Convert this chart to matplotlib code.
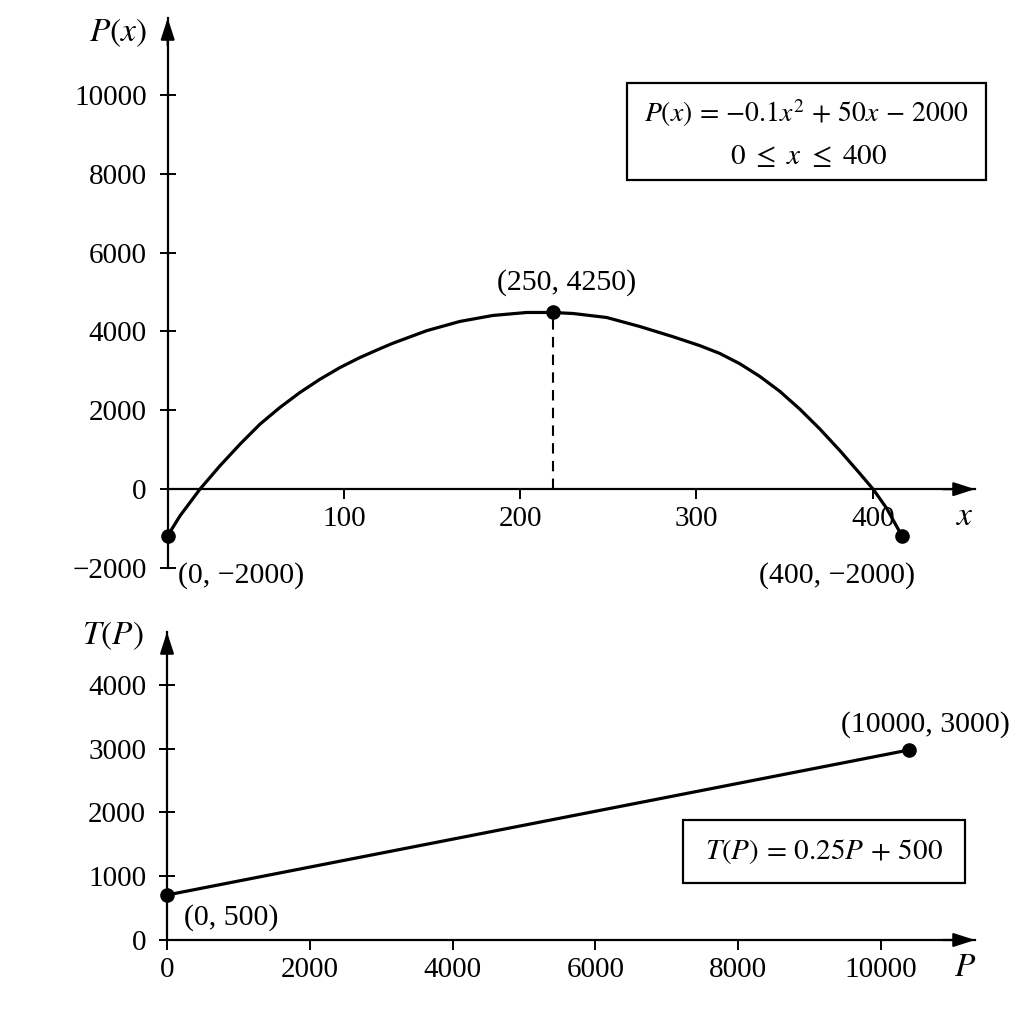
import numpy as np
import matplotlib.pyplot as plt
from matplotlib.patches import Rectangle

plt.rcParams['font.family'] = ['Liberation Serif', 'DejaVu Serif']
plt.rcParams['mathtext.fontset'] = 'stix'

# --- верхний график: прибыль P(x) (точки) ---
curve_x = [0, 7, 18.3, 29.6, 41, 52.3, 63.6, 74.9, 86.3, 97.6, 108.9, 120.3, 127.7,
           147, 165.7, 184.4, 203.7, 218.4, 230, 249, 267.7, 286.4, 301.9, 313.3,
           324.6, 335.9, 347.3, 358.6, 369.9, 381.3, 392.6, 400.2, 407.8, 416.5]
curve_y = [-1182, -676, 0, 590, 1139, 1646, 2069, 2448, 2785, 3081, 3335, 3560, 3700,
           4020, 4253, 4405, 4481, 4481, 4455, 4354, 4127, 3870, 3640, 3440,
           3180, 2860, 2480, 2030, 1530, 980, 400, 0, -480, -1182]
marked_x = [0, 218.4, 416.5]
marked_y = [-1182, 4481, -1182]
marked_labels = ['(0, \u22122000)', '(250, 4250)', '(400, \u22122000)']
top_xticks = [100, 200, 300, 400]
top_yticks = [-2000, 0, 2000, 4000, 6000, 8000, 10000]

# --- нижний график: налог T(P) ---
line_x = [0, 10390]
line_y = [706, 2980]
line_labels = ['(0, 500)', '(10000, 3000)']
bot_xticks = [0, 2000, 4000, 6000, 8000, 10000]
bot_yticks = [0, 1000, 2000, 3000, 4000]

W = 1024
fig = plt.figure(figsize=(10.24, 10.24), dpi=100)
fig.patch.set_facecolor('white')

def fx(px):
    return px / W

def fy(py):
    return 1 - py / W

arrow = dict(arrowstyle='-|>,head_length=1.3,head_width=0.42',
             color='black', lw=1.6, shrinkA=0, shrinkB=0)

def setup(ax):
    for s in ['top', 'right']:
        ax.spines[s].set_visible(False)
    for s in ['left', 'bottom']:
        ax.spines[s].set_linewidth(1.6)
    ax.spines['bottom'].set_position(('data', 0))
    ax.tick_params(axis='y', direction='inout', length=12, width=1.4, pad=9, labelsize=21)
    ax.tick_params(axis='x', direction='out', length=7, width=1.4, pad=5, labelsize=21)
    # стрелки на концах осей
    ax.annotate('', xy=(1, 0), xytext=(0.96, 0), xycoords=ax.get_yaxis_transform(), arrowprops=arrow)
    ax.annotate('', xy=(0, 1), xytext=(0, 0.95), xycoords=ax.get_xaxis_transform(), arrowprops=arrow)

# верхние оси
ax1 = fig.add_axes([fx(167.7), fy(568), fx(975 - 167.7), (568 - 18) / W])
ax1.set_xlim(0, 458)
ax1.set_ylim(-2000, 11950)
setup(ax1)
ax1.set_xticks(top_xticks)
ax1.set_yticks(top_yticks)
ax1.plot(curve_x, curve_y, color='black', lw=2.3, solid_joinstyle='round', clip_on=False)
ax1.plot([marked_x[1], marked_x[1]], [0, marked_y[1]], color='black', lw=1.5, ls=(0, (5, 3.5)))
ax1.plot(marked_x, marked_y, 'o', color='black', ms=9.5, clip_on=False, zorder=5)
ax1.text(5.8, -2203, marked_labels[0], ha='left', va='center', fontsize=21.5)
ax1.text(226.6, 5241, marked_labels[1], ha='center', va='center', fontsize=21.5)
ax1.text(379.6, -2203, marked_labels[2], ha='center', va='center', fontsize=21.5)
ax1.text(452.3, -709, '$x$', ha='center', va='center', fontsize=24)
ax1.text(-28, 11571, '$P(x)$', ha='center', va='center', fontsize=24)

fig.patches.append(Rectangle((fx(627), fy(180)), fx(986 - 627), (180 - 83) / W,
                             transform=fig.transFigure, fill=False, ec='black', lw=1.6))
fig.text(fx(806), fy(113), r'$P(x)\,=\,{-0.1}x^2\,+\,50x\,-\,2000$', ha='center', va='center', fontsize=20)
fig.text(fx(809), fy(157), r'$0\ \leq\ x\ \leq\ 400$', ha='center', va='center', fontsize=21)

# нижние оси
ax2 = fig.add_axes([fx(167), fy(940), fx(975 - 167), (940 - 632) / W])
ax2.set_xlim(0, 11317)
ax2.set_ylim(0, 4831)
setup(ax2)
ax2.set_xticks(bot_xticks)
ax2.set_yticks(bot_yticks)
ax2.plot(line_x, line_y, color='black', lw=2.3)
ax2.plot(line_x, line_y, 'o', color='black', ms=9.5, clip_on=False, zorder=5)
ax2.text(238, 345, line_labels[0], ha='left', va='center', fontsize=21.5)
ax2.text(10616, 3373, line_labels[1], ha='center', va='center', fontsize=21.5)
ax2.text(11176, -439, '$P$', ha='center', va='center', fontsize=24)
ax2.text(-756, 4769, '$T(P)$', ha='center', va='center', fontsize=24)

fig.patches.append(Rectangle((fx(683), fy(883)), fx(965 - 683), (883 - 820) / W,
                             transform=fig.transFigure, fill=False, ec='black', lw=1.6))
fig.text(fx(824), fy(852), r'$T(P)\,=\,0.25P\,+\,500$', ha='center', va='center', fontsize=21)

fig.savefig('out.png', dpi=100, facecolor='white')
